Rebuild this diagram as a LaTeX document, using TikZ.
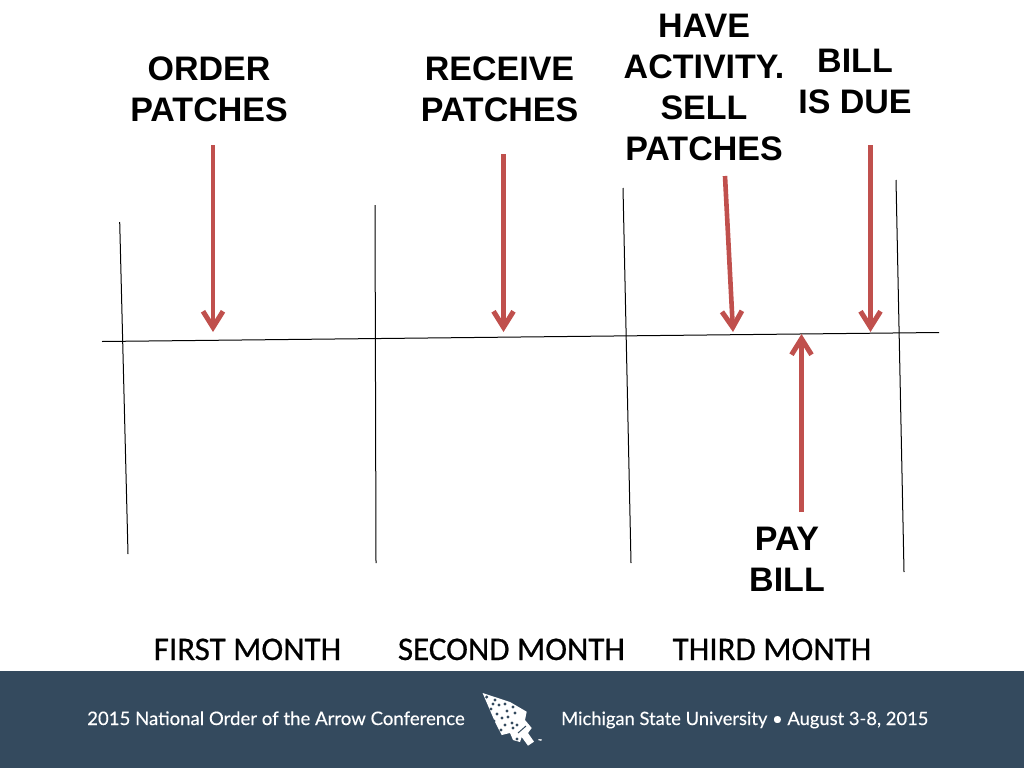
\documentclass[tikz,border=0pt]{standalone}
\usepackage{fontspec}
\setmainfont{Liberation Sans}
\newfontfamily\monthfont[FakeBold=0.6]{Carlito}
\newfontfamily\footfont[FakeBold=0.25]{Lato}
\usetikzlibrary{arrows.meta}
\definecolor{barblue}{HTML}{344A5E}
\definecolor{arrowred}{HTML}{C0504D}
\tikzset{
  x=1pt,y=-1pt,
  lab/.style={font=\fontsize{34}{41}\selectfont\bfseries,text=black,align=center,inner sep=0pt},
  month/.style={font=\fontsize{33}{40}\monthfont,text=black,inner sep=0pt,anchor=base},
  foot/.style={text=white,inner sep=0pt,anchor=base west},
  rule/.style={draw=black,line width=1pt},
  redarrow/.style={draw=arrowred,line width=4.6pt,-{Straight Barb[length=16pt,width=20pt,line width=5pt]}},
}
\begin{document}
\begin{tikzpicture}
\useasboundingbox (0,0) rectangle (1024,768);
\fill[barblue] (0,671) rectangle (1024,768);
% timeline
\coordinate (tlL) at (102,341.5); \coordinate (tlR) at (939,332.5);
\draw[rule] (tlL) -- (tlR);
\coordinate (v1a) at (119.7,222); \coordinate (v1b) at (128,554);
\coordinate (v2a) at (375,205); \coordinate (v2b) at (376,563);
\coordinate (v3a) at (623,188); \coordinate (v3b) at (631,563);
\coordinate (v4a) at (896,180); \coordinate (v4b) at (904,572);
\draw[rule] (v1a) -- (v1b);
\draw[rule] (v2a) -- (v2b);
\draw[rule] (v3a) -- (v3b);
\draw[rule] (v4a) -- (v4b);
% labels
\node[lab] (order) at (209,89.5) {ORDER\\PATCHES};
\node[lab] (receive) at (499.5,89.5) {RECEIVE\\PATCHES};
\node[lab] (have) at (704,87.5) {HAVE\\ACTIVITY.\\SELL\\PATCHES};
\node[lab] (bill) at (855,81) {BILL\\IS DUE};
\node[lab] (pay) at (787,559) {PAY\\BILL};
% arrows
\coordinate (a1s) at (213,145); \coordinate (a1e) at (213,332);
\coordinate (a2s) at (503.5,154); \coordinate (a2e) at (503.5,332);
\coordinate (a3s) at (725,176); \coordinate (a3e) at (733,332);
\coordinate (a4s) at (870.5,145); \coordinate (a4e) at (870.5,332);
\coordinate (a5s) at (801.5,512); \coordinate (a5e) at (801.5,334);
\draw[redarrow] (a1s) -- (a1e);
\draw[redarrow] (a2s) -- (a2e);
\draw[redarrow] (a3s) -- (a3e);
\draw[redarrow] (a4s) -- (a4e);
\draw[redarrow] (a5s) -- (a5e);
% months
\node[month] (m1) at (247.5,660) {FIRST MONTH};
\node[month] (m2) at (511.5,660) {SECOND MONTH};
\node[month] (m3) at (772,660) {THIRD MONTH};
% footer
\node[foot,font=\fontsize{18.6}{23}\footfont] (f1) at (87,725) {2015 National Order of the Arrow Conference};
\node[foot,font=\fontsize{18.35}{23}\footfont] (f2) at (561,725) {Michigan State University • August 3-8, 2015};
% logo
\fill[white] (482.6,693) -- (510,702) -- (526.7,711.7) -- (525,720) -- (531.7,728) -- (528,733) -- (534,741.7) -- (528,745.7) -- (521.7,737) -- (520,742) -- (513,740) -- (510,733) -- (501.7,735) -- (495,722) -- cycle;
\foreach \px/\py in {486.7/697, 495/700, 493/704, 499/705, 505/704, 513/707, 491/709, 507/711, 515/713, 497/714, 502/718, 494/721, 508/717, 501/730, 505/725, 512/723, 513/728, 517/725, 517/739}{
  \fill[barblue] (\px,\py) circle (1.7);
}
\draw[barblue,line width=1pt] (518,733) -- (526,726);
\node[inner sep=0pt,text=white,font=\fontsize{5}{6}\footfont] (tm) at (540,741) {™};
\end{tikzpicture}
\end{document}
